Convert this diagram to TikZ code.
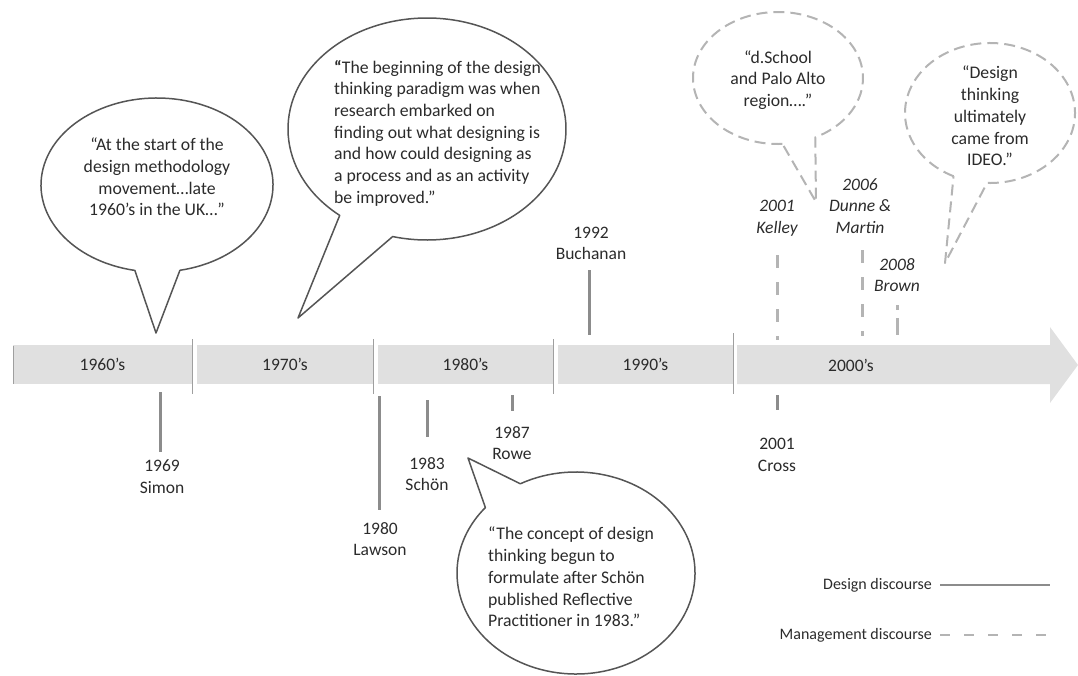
\documentclass[tikz,border=0pt]{standalone}
\usepackage{fontspec}
\setmainfont{Carlito}
\definecolor{txt}{HTML}{2B2B2B}
\definecolor{barfill}{HTML}{E0E0E0}
\definecolor{solidline}{HTML}{8C8C8C}
\definecolor{dashline}{HTML}{B4B4B4}
\definecolor{bubedge}{HTML}{555555}
\begin{document}
\begin{tikzpicture}[x=1pt,y=-1pt,
  lbl/.style={font=\fontsize{17.5}{21.5}\selectfont, text=txt, align=center, inner sep=0pt},
  ilbl/.style={lbl, font=\fontsize{17.5}{21.5}\selectfont\itshape},
  qtext/.style={font=\fontsize{17.7}{21.7}\selectfont, text=txt, inner sep=0pt},
  legtext/.style={font=\fontsize{16}{19}\selectfont, text=txt, inner sep=0pt, anchor=east},
  seg/.style={fill=barfill, draw=none, minimum height=39pt, inner sep=0pt, font=\fontsize{17.5}{21}\selectfont, text=txt},
  designline/.style={draw=solidline, line width=3pt},
  mgmtline/.style={draw=dashline, line width=3pt, dash pattern=on 13pt off 14pt},
  bub/.style={draw=bubedge, line width=1.5pt, fill=white, line join=round},
  dbub/.style={draw=dashline, line width=2pt, fill=white, dash pattern=on 11pt off 6pt, line join=round},
  sepline/.style={draw=gray!75, line width=0.8pt}
]
\useasboundingbox (0,0) rectangle (1078,675);

% timeline bar
\node[seg, minimum width=179pt] (d60) at (102.5,364.5) {1960’s};
\node[seg, minimum width=176pt] (d70) at (285,364.5) {1970’s};
\node[seg, minimum width=175pt] (d80) at (465.5,364.5) {1980’s};
\node[seg, minimum width=175pt] (d90) at (645.5,364.5) {1990’s};
\fill[barfill] (737,345) -- (1050,345) -- (1050,327) -- (1078,365) -- (1050,403) -- (1050,384) -- (737,384) -- cycle;
\node[lbl] (d00) at (851,365) {2000’s};
\coordinate (s0a) at (13,346);  \coordinate (s0b) at (13,384);
\coordinate (s1a) at (192.5,339); \coordinate (s1b) at (192.5,394);
\coordinate (s2a) at (373.5,339); \coordinate (s2b) at (373.5,394);
\coordinate (s3a) at (553.5,339); \coordinate (s3b) at (553.5,394);
\coordinate (s4a) at (733.5,333); \coordinate (s4b) at (733.5,394);
\foreach \s in {0,1,2,3,4} \draw[sepline] (s\s a) -- (s\s b);

% speech bubbles
\draw[bub] (157,185) ++(101:116 and 87) arc[start angle=101,end angle=438.6,x radius=116,y radius=87] -- (156,333) -- cycle;
\draw[bub] (427,129) ++(128.9:139 and 111) arc[start angle=128.9,end angle=464.3,x radius=139,y radius=111] -- (298,318) -- cycle;
\draw[bub] (576,573) ++(242.1:119 and 101) arc[start angle=242.1,end angle=580.4,x radius=119,y radius=101] -- (468,458) -- cycle;
\draw[dbub] (778,78) ++(87:85 and 66) arc[start angle=87,end angle=424,x radius=85,y radius=66] -- (816,202) -- cycle;
\draw[dbub] (990,113) ++(115.4:85 and 70) arc[start angle=115.4,end angle=452,x radius=85,y radius=70] -- (945,263) -- cycle;

\node[qtext, align=center] (q1) at (157,177) {“At the start of the\\design methodology\\movement…late\\1960’s in the UK…”};
\node[qtext, align=left, anchor=west] (q2) at (334,133) {{\bfseries “}The beginning of the design\\thinking paradigm was when\\research embarked on\\finding out what designing is\\and how could designing as\\a process and as an activity\\be improved.”};
\node[qtext, align=left, anchor=west] (q3) at (488,577) {“The concept of design\\thinking begun to\\formulate after Schön\\published Reflective\\Practitioner in 1983.”};
\node[qtext, align=center] (q4) at (778,80) {“d.School\\and Palo Alto\\region….”};
\node[qtext, align=center] (q5) at (990,116) {“Design\\thinking\\ultimately\\came from\\IDEO.”};

% design discourse markers
\node[lbl] (simon) at (162,476.5) {1969\\Simon};
\coordinate (m69a) at (160,392); \coordinate (m69b) at (160,452);
\draw[designline] (m69a) -- (m69b);
\node[lbl] (lawson) at (380,539) {1980\\Lawson};
\coordinate (m80a) at (379,396); \coordinate (m80b) at (379,510);
\draw[designline] (m80a) -- (m80b);
\node[lbl] (schon) at (427,474) {1983\\Schön};
\coordinate (m83a) at (427,400); \coordinate (m83b) at (427,437);
\draw[designline] (m83a) -- (m83b);
\node[lbl] (rowe) at (512,443) {1987\\Rowe};
\coordinate (m87a) at (512,395); \coordinate (m87b) at (512,411);
\draw[designline] (m87a) -- (m87b);
\node[lbl] (cross) at (777,455) {2001\\Cross};
\coordinate (m01a) at (777,395); \coordinate (m01b) at (777,410);
\draw[designline] (m01a) -- (m01b);
\node[lbl] (buchanan) at (591,243.5) {1992\\Buchanan};
\coordinate (m92a) at (589,270); \coordinate (m92b) at (589,335);
\draw[designline] (m92a) -- (m92b);

% management discourse markers
\node[ilbl] (kelley) at (777,218) {2001\\Kelley};
\coordinate (k01a) at (777,255); \coordinate (k01b) at (777,340);
\draw[mgmtline] (k01a) -- (k01b);
\node[ilbl] (dunne) at (860,206) {2006\\Dunne \&\\Martin};
\coordinate (k06a) at (862,250); \coordinate (k06b) at (862,336);
\draw[mgmtline] (k06a) -- (k06b);
\node[ilbl] (brown) at (897,275) {2008\\Brown};
\coordinate (k08a) at (897,305); \coordinate (k08b) at (897,335);
\draw[draw=dashline, line width=3pt, dash pattern=on 5pt off 8pt on 30pt] (k08a) -- (k08b);

% legend
\node[legtext] (legd) at (932,585) {Design discourse};
\coordinate (ld1) at (940,585); \coordinate (ld2) at (1050,585);
\draw[draw=solidline, line width=2.5pt] (ld1) -- (ld2);
\node[legtext] (legm) at (932,635) {Management discourse};
\coordinate (lm1) at (940,635); \coordinate (lm2) at (1050,635);
\draw[draw=dashline, line width=2.5pt, dash pattern=on 10pt off 14pt] (lm1) -- (lm2);
\end{tikzpicture}
\end{document}
